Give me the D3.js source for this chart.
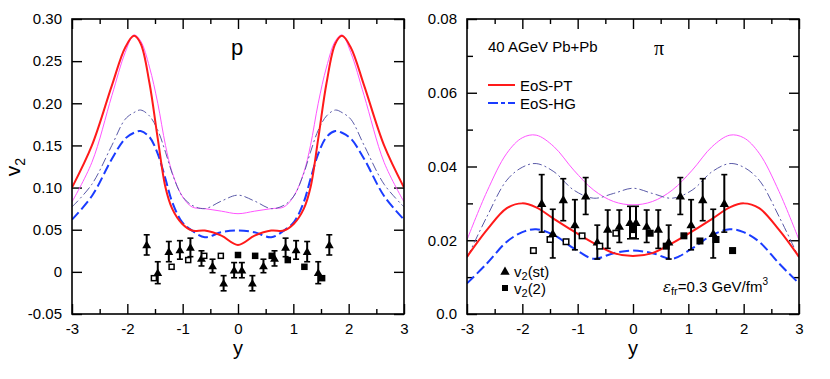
<!DOCTYPE html>
<html>
<head>
<meta charset="utf-8">
<script src="https://cdn.jsdelivr.net/npm/d3@7"></script>
<style>
  body { margin: 0; background: #fff; }
  svg text { font-family: "Liberation Sans", Arial, Helvetica, sans-serif; fill: #000; }
  .frame { fill: none; stroke: #000; stroke-width: 1.6; }
  .tick line { stroke: #000; stroke-width: 1.4; }
  .domain { display: none; }
</style>
</head>
<body>
<svg id="chart" width="830" height="379"></svg>
<script>
// ---------------- data: proton panel (left) ----------------
const pY = [-3, -2.64, -2.28, -2.04, -1.88, -1.76, -1.6, -1.45, -1.31, -1.19, -1.01, -0.83, -0.6, -0.3, 0,
            0.3, 0.6, 0.83, 1.01, 1.19, 1.31, 1.45, 1.6, 1.76, 1.88, 2.04, 2.28, 2.64, 3];
const pRed = [0.100, 0.150, 0.221, 0.266, 0.280, 0.271, 0.224, 0.158, 0.100, 0.075, 0.057, 0.049, 0.049, 0.043, 0.032,
              0.043, 0.049, 0.049, 0.057, 0.075, 0.100, 0.158, 0.224, 0.271, 0.280, 0.266, 0.221, 0.150, 0.100];
const pMagenta = [0.083, 0.130, 0.209, 0.260, 0.281, 0.274, 0.243, 0.200, 0.150, 0.118, 0.090, 0.077, 0.075, 0.072, 0.069,
                  0.072, 0.075, 0.077, 0.090, 0.118, 0.150, 0.200, 0.243, 0.274, 0.281, 0.260, 0.209, 0.130, 0.083];
const pNavy = [0.077, 0.104, 0.150, 0.181, 0.189, 0.192, 0.185, 0.168, 0.142, 0.117, 0.090, 0.079, 0.075, 0.084, 0.091,
               0.084, 0.075, 0.079, 0.090, 0.117, 0.142, 0.168, 0.185, 0.192, 0.189, 0.181, 0.150, 0.104, 0.077];
const pBlue = [0.062, 0.090, 0.134, 0.158, 0.165, 0.167, 0.160, 0.140, 0.110, 0.083, 0.059, 0.049, 0.041, 0.047, 0.049,
               0.047, 0.041, 0.049, 0.059, 0.083, 0.110, 0.140, 0.160, 0.167, 0.165, 0.158, 0.134, 0.090, 0.062];

const pTriY = [-1.65, -1.45, -1.25, -1.05, -0.86, -0.66, -0.46, -0.26, -0.07, 0.07, 0.26, 0.46, 0.66, 0.86, 1.05, 1.25, 1.45, 1.65];
const pTriV = [0.032, -0.001, 0.024, 0.026, 0.029, 0.016, 0.007, -0.0135, 0.002, 0.002, -0.0135, 0.007, 0.016, 0.029, 0.026, 0.024, -0.001, 0.032];
const pTriErr = [0.012, 0.013, 0.012, 0.011, 0.011, 0.009, 0.008, 0.009, 0.009, 0.009, 0.009, 0.008, 0.009, 0.011, 0.011, 0.012, 0.013, 0.012];
const pSqY = [-1.52, -1.2, -0.9, -0.61, -0.31, 0, 0.31, 0.61, 0.9, 1.2, 1.52];
const pSqV = [-0.0075, 0.006, 0.014, 0.019, 0.019, 0.020, 0.019, 0.019, 0.014, 0.006, -0.0075];
const pSqOpen = [true, true, true, true, true, false, false, false, false, false, false];

// ---------------- data: pion panel (right) ----------------
const piY = [-3, -2.64, -2.28, -2.0, -1.75, -1.43, -1.07, -0.71, -0.35, 0,
             0.35, 0.71, 1.07, 1.43, 1.75, 2.0, 2.28, 2.64, 3];
const piMagenta = [0.0201, 0.0332, 0.0436, 0.0478, 0.0485, 0.0454, 0.0390, 0.0336, 0.0305, 0.0296,
                   0.0305, 0.0336, 0.0390, 0.0454, 0.0485, 0.0478, 0.0436, 0.0332, 0.0201];
const piNavy = [0.0152, 0.0264, 0.0363, 0.0398, 0.0408, 0.0386, 0.0336, 0.0314, 0.0327, 0.0341,
                0.0327, 0.0314, 0.0336, 0.0386, 0.0408, 0.0398, 0.0363, 0.0264, 0.0152];
const piRed = [0.0155, 0.0228, 0.0287, 0.0300, 0.0289, 0.0258, 0.0224, 0.0192, 0.0165, 0.0157,
               0.0165, 0.0192, 0.0224, 0.0258, 0.0289, 0.0300, 0.0287, 0.0228, 0.0155];
const piBlue = [0.0083, 0.0137, 0.0196, 0.0222, 0.0230, 0.0214, 0.0178, 0.0150, 0.0165, 0.0172,
                0.0165, 0.0150, 0.0178, 0.0214, 0.0230, 0.0222, 0.0196, 0.0137, 0.0083];

const piTriY = [-1.65, -1.45, -1.26, -1.05, -0.855, -0.645, -0.457, -0.247, -0.054, 0.054, 0.247, 0.457, 0.645, 0.855, 1.05, 1.26, 1.45, 1.65];
const piTriV = [0.0300, 0.0218, 0.0310, 0.0242, 0.0320, 0.0195, 0.0230, 0.0238, 0.0248, 0.0248, 0.0238, 0.0230, 0.0195, 0.0320, 0.0242, 0.0310, 0.0218, 0.0300];
const piTriErr = [0.0078, 0.0066, 0.0057, 0.0068, 0.0050, 0.0046, 0.0052, 0.0044, 0.0044, 0.0044, 0.0044, 0.0052, 0.0046, 0.0050, 0.0068, 0.0057, 0.0066, 0.0078];
const piSqY = [-1.8, -1.5, -1.21, -0.92, -0.6, -0.31, 0, 0, 0.31, 0.6, 0.92, 1.21, 1.5, 1.8];
const piSqV = [0.0172, 0.0202, 0.0196, 0.0212, 0.0184, 0.0219, 0.0214, 0.0230, 0.0219, 0.0184, 0.0212, 0.0198, 0.0202, 0.0172];
const piSqOpen = [true, true, true, true, true, true, true, false, false, false, false, false, false, false];

// ---------------- tick labels ----------------
const xTicks = [-3, -2, -1, 0, 1, 2, 3];
const xLabels = ["-3", "-2", "-1", "0", "1", "2", "3"];
const xMinor = [-2.5, -1.5, -0.5, 0.5, 1.5, 2.5];
const pYTicks = [-0.05, 0, 0.05, 0.10, 0.15, 0.20, 0.25, 0.30];
const pYLabels = ["-0.05", "0", "0.05", "0.10", "0.15", "0.20", "0.25", "0.30"];
const piYTicks = [0, 0.02, 0.04, 0.06, 0.08];
const piYLabels = ["0.0", "0.02", "0.04", "0.06", "0.08"];
const piYMinor = [0.01, 0.03, 0.05, 0.07];

const styles = {
    red:     {stroke: "#ff1a1a", width: 2.0, dash: null},
    magenta: {stroke: "#ff55ff", width: 1.0, dash: null},
    navy:    {stroke: "#5a5aa8", width: 1.0, dash: "9,3,2,3"},
    blue:    {stroke: "#1a3cff", width: 2.0, dash: "10,4"}
};

const svg = d3.select("#chart");
const plotTop = 19, plotBottom = 314;

function drawPanel(cfg) {
    const g = svg.append("g");
    const xScale = d3.scaleLinear([-3, 3], [cfg.left, cfg.right]);
    const yScale = d3.scaleLinear(cfg.yDomain, [plotBottom, plotTop]);
    const W = cfg.right - cfg.left, H = plotBottom - plotTop;

    // axes: inward ticks on all four sides
    g.append("g").attr("transform", `translate(0,${plotBottom})`)
        .call(d3.axisBottom(xScale).tickValues(xTicks).tickSize(-10).tickPadding(9)
            .tickFormat((d, i) => xLabels[i]))
        .selectAll("text").attr("font-size", 15).attr("font-family", "Liberation Sans, Arial");
    g.append("g").attr("transform", `translate(0,${plotBottom})`)
        .call(d3.axisBottom(xScale).tickValues(xMinor).tickSize(-5).tickFormat(""));
    g.append("g").attr("transform", `translate(0,${plotTop})`)
        .call(d3.axisTop(xScale).tickValues(xTicks).tickSize(-10).tickFormat(""));
    g.append("g").attr("transform", `translate(0,${plotTop})`)
        .call(d3.axisTop(xScale).tickValues(xMinor).tickSize(-5).tickFormat(""));

    g.append("g").attr("transform", `translate(${cfg.left},0)`)
        .call(d3.axisLeft(yScale).tickValues(cfg.yTicks).tickSize(-10).tickPadding(10)
            .tickFormat((d, i) => cfg.yLabels[i]))
        .selectAll("text").attr("font-size", 15).attr("font-family", "Liberation Sans, Arial");
    g.append("g").attr("transform", `translate(${cfg.right},0)`)
        .call(d3.axisRight(yScale).tickValues(cfg.yTicks).tickSize(-10).tickFormat(""));
    if (cfg.yMinor) {
        g.append("g").attr("transform", `translate(${cfg.left},0)`)
            .call(d3.axisLeft(yScale).tickValues(cfg.yMinor).tickSize(-6).tickFormat(""));
        g.append("g").attr("transform", `translate(${cfg.right},0)`)
            .call(d3.axisRight(yScale).tickValues(cfg.yMinor).tickSize(-6).tickFormat(""));
    }

    // curves
    const clipId = "clip" + cfg.left;
    svg.append("clipPath").attr("id", clipId).append("rect")
        .attr("x", cfg.left).attr("y", plotTop).attr("width", W).attr("height", H);
    const line = d3.line()
        .x(d => xScale(d[0]))
        .y(d => yScale(d[1]))
        .curve(d3.curveCatmullRom.alpha(.5));
    cfg.curves.forEach(c => {
        const st = styles[c.style];
        g.append("path")
            .attr("d", line(c.x.map((v, i) => [v, c.v[i]])))
            .attr("clip-path", `url(#${clipId})`)
            .attr("fill", "none")
            .attr("stroke", st.stroke)
            .attr("stroke-width", st.width)
            .attr("stroke-dasharray", st.dash);
    });

    // error bars and triangles
    const capW = 3;
    cfg.triY.forEach((y, i) => {
        const x = xScale(y);
        const y1 = yScale(cfg.triV[i] + cfg.triErr[i]);
        const y2 = yScale(cfg.triV[i] - cfg.triErr[i]);
        g.append("line").attr("x1", x).attr("x2", x).attr("y1", y1).attr("y2", y2)
            .attr("stroke", "#000").attr("stroke-width", 2);
        g.append("line").attr("x1", x - capW).attr("x2", x + capW).attr("y1", y1).attr("y2", y1)
            .attr("stroke", "#000").attr("stroke-width", 1.6);
        g.append("line").attr("x1", x - capW).attr("x2", x + capW).attr("y1", y2).attr("y2", y2)
            .attr("stroke", "#000").attr("stroke-width", 1.6);
        g.append("path")
            .attr("d", d3.symbol(d3.symbolTriangle, cfg.triSize)())
            .attr("transform", `translate(${x},${yScale(cfg.triV[i]) + 0.8})`)
            .attr("fill", "#000");
    });

    // squares
    cfg.sqY.forEach((y, i) => {
        const s = cfg.sqSize;
        g.append("rect")
            .attr("x", xScale(y) - s / 2).attr("y", yScale(cfg.sqV[i]) - s / 2)
            .attr("width", s).attr("height", s)
            .attr("fill", cfg.sqOpen[i] ? "#fff" : "#000")
            .attr("stroke", "#000").attr("stroke-width", 1.5);
    });

    // frame
    g.append("rect").attr("class", "frame")
        .attr("x", cfg.left).attr("y", plotTop).attr("width", W).attr("height", H);

    // x label
    g.append("text").text("y")
        .attr("x", xScale(0)).attr("y", 355)
        .attr("text-anchor", "middle").attr("font-size", 20);

    return {xScale, yScale, g};
}

// ---------------- left panel ----------------
const L = drawPanel({
    left: 72, right: 404, yDomain: [-0.05, 0.30],
    yTicks: pYTicks, yLabels: pYLabels, yMinor: null,
    curves: [
        {x: pY, v: pMagenta, style: "magenta"},
        {x: pY, v: pNavy, style: "navy"},
        {x: pY, v: pBlue, style: "blue"},
        {x: pY, v: pRed, style: "red"}
    ],
    triY: pTriY, triV: pTriV, triErr: pTriErr, triSize: 34,
    sqY: pSqY, sqV: pSqV, sqOpen: pSqOpen, sqSize: 5
});

svg.append("text")
    .attr("transform", "translate(20,167) rotate(-90)")
    .attr("text-anchor", "middle").attr("font-size", 21)
    .html('v<tspan font-size="14" dy="5">2</tspan>');

svg.append("text").text("p")
    .attr("x", 237).attr("y", 55).attr("text-anchor", "middle").attr("font-size", 22);

// ---------------- right panel ----------------
const R = drawPanel({
    left: 467, right: 799, yDomain: [0, 0.08],
    yTicks: piYTicks, yLabels: piYLabels, yMinor: piYMinor,
    curves: [
        {x: piY, v: piMagenta, style: "magenta"},
        {x: piY, v: piNavy, style: "navy"},
        {x: piY, v: piBlue, style: "blue"},
        {x: piY, v: piRed, style: "red"}
    ],
    triY: piTriY, triV: piTriV, triErr: piTriErr, triSize: 38,
    sqY: piSqY, sqV: piSqV, sqOpen: piSqOpen, sqSize: 5.5
});

svg.append("text").text("40 AGeV Pb+Pb")
    .attr("x", 488).attr("y", 52).attr("font-size", 15);
svg.append("text").text("π")
    .attr("x", 659).attr("y", 55).attr("text-anchor", "middle")
    .attr("font-size", 20).style("font-family", "Liberation Serif, DejaVu Serif, serif");

// legend
const legendItems = [
    {label: "EoS-PT", style: "red", y: 85},
    {label: "EoS-HG", style: "blue", y: 103}
];
legendItems.forEach(d => {
    const st = styles[d.style];
    svg.append("line")
        .attr("x1", 488).attr("x2", 515).attr("y1", d.y).attr("y2", d.y)
        .attr("stroke", st.stroke).attr("stroke-width", st.width)
        .attr("stroke-dasharray", d.style === "blue" ? "10,3,4,3" : null);
    svg.append("text").text(d.label)
        .attr("x", 520).attr("y", d.y + 5.5).attr("font-size", 15);
});

svg.append("path")
    .attr("d", d3.symbol(d3.symbolTriangle, 38)())
    .attr("transform", "translate(505,272)").attr("fill", "#000");
svg.append("text").attr("x", 514).attr("y", 277).attr("font-size", 15)
    .html('v<tspan font-size="11" dy="3">2</tspan><tspan dy="-3">(st)</tspan>');
svg.append("rect").attr("x", 502).attr("y", 285).attr("width", 6).attr("height", 6).attr("fill", "#000");
svg.append("text").attr("x", 514).attr("y", 294).attr("font-size", 15)
    .html('v<tspan font-size="11" dy="3">2</tspan><tspan dy="-3">(2)</tspan>');

svg.append("text").attr("x", 663).attr("y", 292).attr("font-size", 15)
    .html('<tspan font-style="italic" style="font-family: DejaVu Serif, serif">ε</tspan><tspan font-size="11" dy="3">fr</tspan><tspan dy="-3">=0.3 GeV/fm</tspan><tspan font-size="10" dy="-7">3</tspan>');
</script>
</body>
</html>
